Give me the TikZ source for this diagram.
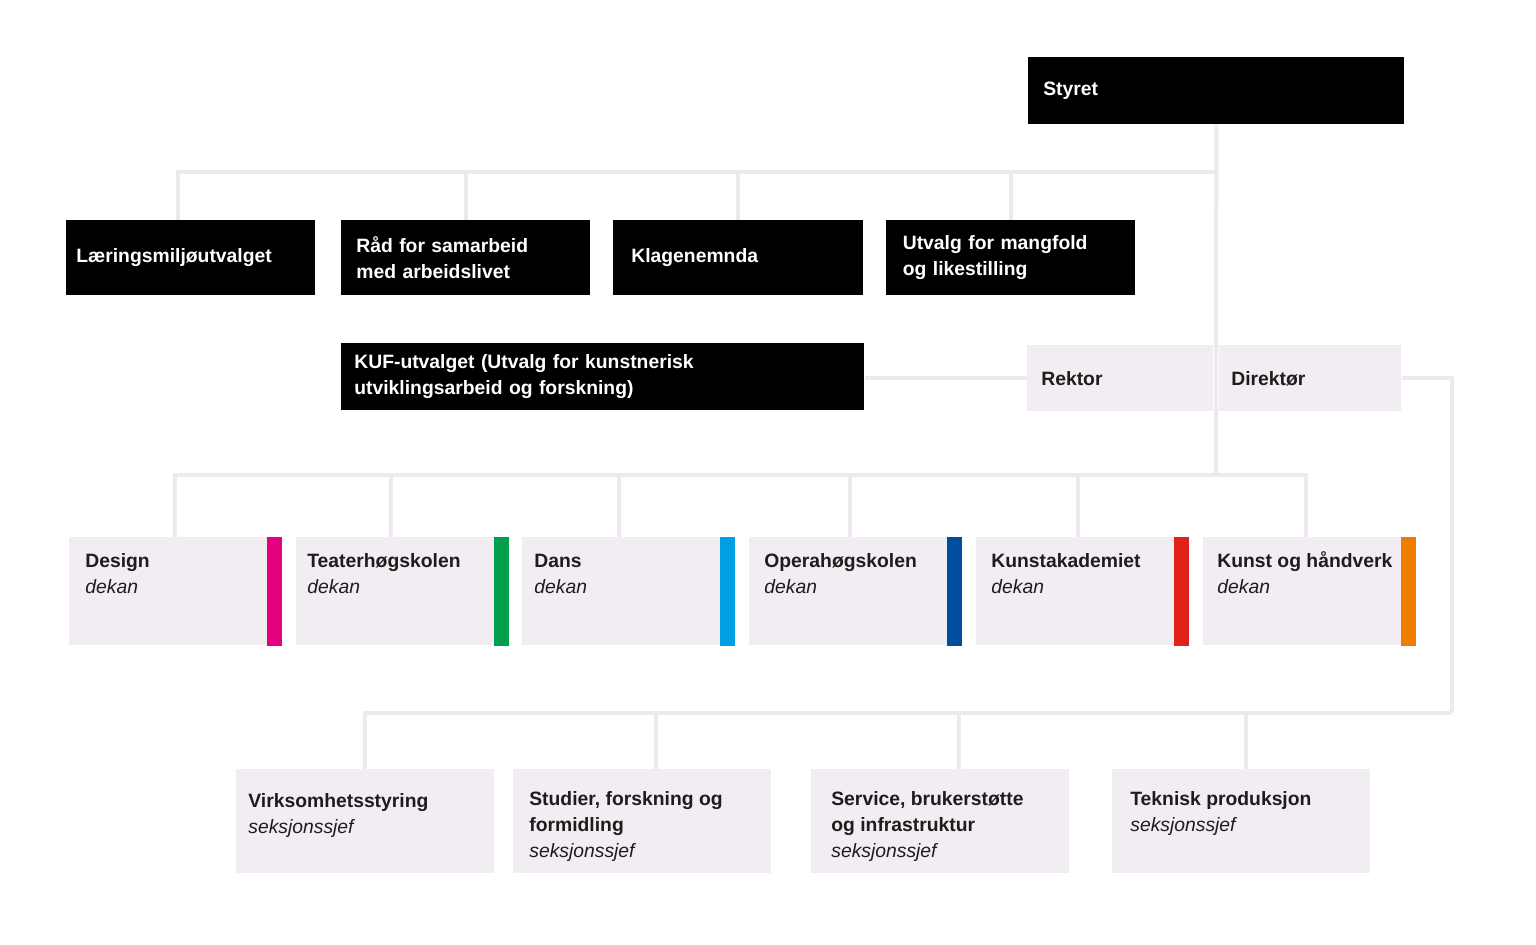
\documentclass[tikz,border=0pt]{standalone}
\usepackage{fontspec}
\setmainfont{Liberation Sans}
\usepackage{xcolor}
\usetikzlibrary{backgrounds}

\definecolor{lilla}{HTML}{F2ECF3}
\definecolor{linje}{HTML}{F0E8F0}
\definecolor{tekstsort}{HTML}{1D1D1B}
\definecolor{rosa}{HTML}{E5007E}
\definecolor{gronn}{HTML}{00A04A}
\definecolor{cyan}{HTML}{009FE3}
\definecolor{blaa}{HTML}{004F9F}
\definecolor{rod}{HTML}{E3211B}
\definecolor{oransje}{HTML}{EF7D00}

\begin{document}
\begin{tikzpicture}[x=0.02cm, y=-0.02cm,
    blk/.style={fill=black, text=white, anchor=north west, align=left, inner xsep=0.3cm, inner ysep=0pt,
      font=\fontsize{11}{14.8}\selectfont\bfseries},
    rek/.style={blk, fill=lilla, text=tekstsort},
    lys/.style={fill=lilla, anchor=north west, inner sep=0pt},
    tekst/.style={anchor=north west, align=left, inner sep=0pt, text=tekstsort,
      font=\fontsize{11}{14.8}\selectfont\bfseries},
    conn/.style={draw=linje, line width=0.08cm}]
      \useasboundingbox (0,0) rectangle (1536,945);

      % Styret
      \node[blk, text width=6.92cm, minimum height=1.34cm] (styret) at (1028,57) {Styret};

      % Utvalg
      \node[blk, inner xsep=0.2cm, text width=4.58cm, minimum height=1.5cm] (lms) at (66,220) {Læringsmiljøutvalget};
      \node[blk, text width=4.38cm, minimum height=1.5cm] (raad) at (341,220) {Råd for samarbeid\\med arbeidslivet};
      \node[blk, inner xsep=0.36cm, text width=4.28cm, minimum height=1.5cm] (klage) at (613,220) {Klagenemnda};
      \node[blk, inner xsep=0.33cm, text width=4.32cm, minimum height=1.5cm] (mangfold) at (886,220) {Utvalg for mangfold\\og likestilling};
      \node[blk, inner xsep=0.26cm, text width=9.94cm, minimum height=1.34cm] (kuf) at (341,343) {KUF-utvalget (Utvalg for kunstnerisk\\utviklingsarbeid og forskning)};

      % Ledelse
      \node[rek, inner xsep=0.28cm, text width=3.16cm, minimum height=1.32cm] (rektor) at (1027,345) {Rektor};
      \node[rek, inner xsep=0.24cm, text width=3.16cm, minimum height=1.32cm] (direktor) at (1219,345) {Direktør};

      % Fakulteter
      \node[lys, minimum width=4.24cm, minimum height=2.16cm] (design) at (69,537) {};
      \node[lys, minimum width=4.24cm, minimum height=2.16cm] (teater) at (296,537) {};
      \node[lys, minimum width=4.24cm, minimum height=2.16cm] (dans) at (522,537) {};
      \node[lys, minimum width=4.24cm, minimum height=2.16cm] (opera) at (749,537) {};
      \node[lys, minimum width=4.24cm, minimum height=2.16cm] (kunstakad) at (976,537) {};
      \node[lys, minimum width=4.24cm, minimum height=2.16cm] (kunsthv) at (1203,537) {};
      \fill[rosa] ([xshift=-0.29cm]design.north east) rectangle (design.south east);
      \fill[gronn] ([xshift=-0.29cm]teater.north east) rectangle (teater.south east);
      \fill[cyan] ([xshift=-0.29cm]dans.north east) rectangle (dans.south east);
      \fill[blaa] ([xshift=-0.29cm]opera.north east) rectangle (opera.south east);
      \fill[rod] ([xshift=-0.29cm]kunstakad.north east) rectangle (kunstakad.south east);
      \fill[oransje] ([xshift=-0.29cm]kunsthv.north east) rectangle (kunsthv.south east);
      \node[tekst] (design-t) at (85,550) {\vphantom{Å}Design\\{\mdseries\itshape dekan}};
      \node[tekst] (teater-t) at (307,550) {\vphantom{Å}Teaterhøgskolen\\{\mdseries\itshape dekan}};
      \node[tekst] (dans-t) at (534,550) {\vphantom{Å}Dans\\{\mdseries\itshape dekan}};
      \node[tekst] (opera-t) at (764,550) {\vphantom{Å}Operahøgskolen\\{\mdseries\itshape dekan}};
      \node[tekst] (kunstakad-t) at (991,550) {\vphantom{Å}Kunstakademiet\\{\mdseries\itshape dekan}};
      \node[tekst] (kunsthv-t) at (1217,550) {\vphantom{Å}Kunst og håndverk\\{\mdseries\itshape dekan}};

      % Seksjoner
      \node[lys, minimum width=5.16cm, minimum height=2.08cm] (virk) at (236,769) {};
      \node[lys, minimum width=5.16cm, minimum height=2.08cm] (studier) at (513,769) {};
      \node[lys, minimum width=5.16cm, minimum height=2.08cm] (service) at (811,769) {};
      \node[lys, minimum width=5.16cm, minimum height=2.08cm] (teknisk) at (1112,769) {};
      \node[tekst] (virk-t) at (248,790) {\vphantom{Å}Virksomhetsstyring\\{\mdseries\itshape seksjonssjef}};
      \node[tekst] (studier-t) at (529,788) {\vphantom{Å}Studier, forskning\ og\\formidling\\{\mdseries\itshape seksjonssjef}};
      \node[tekst] (service-t) at (831,788) {\vphantom{Å}Service, brukerstøtte\\og infrastruktur\\{\mdseries\itshape seksjonssjef}};
      \node[tekst] (teknisk-t) at (1130,788) {\vphantom{Å}Teknisk produksjon\\{\mdseries\itshape seksjonssjef}};

      % Linjer
      \coordinate (topbus) at (1216,172);
      \coordinate (fakbus) at (1216,475);
      \coordinate (adminbus) at (1452,713);
      \begin{scope}[on background layer]
        \draw[conn] (styret.south) -- (fakbus);
        \draw[conn] ([xshift=-0.25cm]lms.north) |- (topbus);
        \draw[conn] (raad.north) |- (topbus);
        \draw[conn] (klage.north) |- (topbus);
        \draw[conn] (mangfold.north) |- (topbus);
        \draw[conn] (kuf.east |- rektor.west) -- (rektor.west);
        \draw[conn] (design.north) |- (fakbus);
        \draw[conn] ([xshift=-0.22cm]teater.north) |- (fakbus);
        \draw[conn] ([xshift=-0.18cm]dans.north) |- (fakbus);
        \draw[conn] ([xshift=-0.1cm]opera.north) |- (fakbus);
        \draw[conn] ([xshift=-0.08cm]kunstakad.north) |- (fakbus);
        \draw[conn] ([xshift=-0.06cm]kunsthv.north) |- (fakbus);
        \draw[conn] (direktor.east) -| (adminbus);
        \draw[conn] (virk.north) |- (adminbus);
        \draw[conn] ([xshift=0.28cm]studier.north) |- (adminbus);
        \draw[conn] ([xshift=0.38cm]service.north) |- (adminbus);
        \draw[conn] ([xshift=0.1cm]teknisk.north) |- (adminbus);
      \end{scope}
    \end{tikzpicture}
\end{document}
